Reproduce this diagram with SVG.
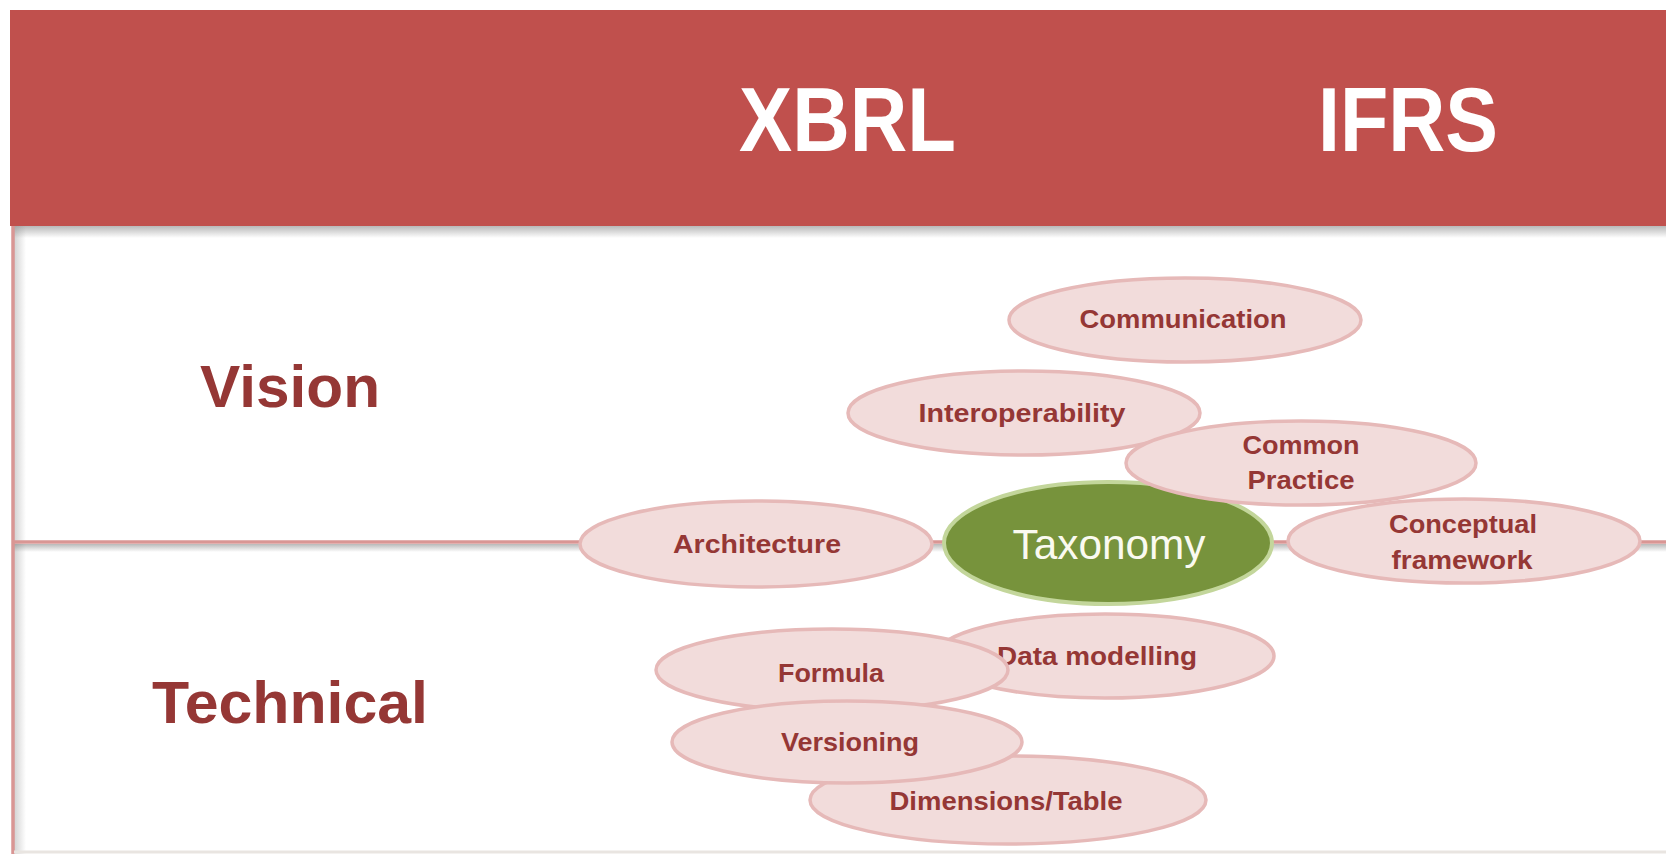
<svg xmlns="http://www.w3.org/2000/svg" width="1666" height="854" viewBox="0 0 1666 854">
  <defs>
    <linearGradient id="shadowDown" x1="0" y1="0" x2="0" y2="1">
      <stop offset="0" stop-color="#7f7f7f" stop-opacity="0.55"/>
      <stop offset="1" stop-color="#7f7f7f" stop-opacity="0"/>
    </linearGradient>
    <linearGradient id="shadowRight" x1="0" y1="0" x2="1" y2="0">
      <stop offset="0" stop-color="#7f7f7f" stop-opacity="0.35"/>
      <stop offset="1" stop-color="#7f7f7f" stop-opacity="0"/>
    </linearGradient>
  </defs>
  <style>
    .hdr { font-family: "Liberation Sans", Arial, sans-serif; font-weight: bold; fill: #FFFFFF; font-size: 90px; }
    .row { font-family: "Liberation Sans", Arial, sans-serif; font-weight: bold; fill: #953735; font-size: 60px; text-anchor: middle; }
    .pink { fill: #F2DCDB; stroke: #E6B9B8; stroke-width: 3.5; }
    .lbl { font-family: "Liberation Sans", Arial, sans-serif; font-weight: bold; fill: #953735; font-size: 25px; text-anchor: middle; }
    .tax { fill: #77933C; stroke: #C3D69B; stroke-width: 4; }
    .taxlbl { font-family: "Liberation Sans", Arial, sans-serif; fill: #FAFAF0; font-size: 43px; text-anchor: middle; }
    .conn { stroke: #D99694; stroke-width: 3.5; fill: none; }
  </style>

  <rect x="0" y="0" width="1666" height="854" fill="#FFFFFF"/>

  <!-- header band -->
  <g id="header">
    <rect x="14" y="226" width="1652" height="12" fill="url(#shadowDown)"/>
    <rect x="10" y="10" width="1656" height="216" fill="#C0504D"/>
    <text class="hdr" x="739" y="151" textLength="217" lengthAdjust="spacingAndGlyphs">XBRL</text>
    <text class="hdr" x="1318" y="151" textLength="180" lengthAdjust="spacingAndGlyphs">IFRS</text>
  </g>

  <!-- frame lines -->
  <g id="connectors">
    <rect x="14" y="226" width="12" height="628" fill="url(#shadowRight)"/>
    <rect x="14" y="544" width="1652" height="8" fill="url(#shadowDown)"/>
    <line class="conn" x1="13" y1="226" x2="13" y2="854"/>
    <line class="conn" x1="12" y1="542" x2="1666" y2="542"/>
    <line x1="14" y1="852" x2="1666" y2="852" stroke="#E9E5E1" stroke-width="3"/>
  </g>

  <g id="row-labels">
    <text class="row" x="290" y="407" textLength="180" lengthAdjust="spacingAndGlyphs">Vision</text>
    <text class="row" x="290" y="723" textLength="276" lengthAdjust="spacingAndGlyphs">Technical</text>
  </g>

  <g id="node-communication">
    <ellipse class="pink" cx="1185" cy="320" rx="176" ry="42"/>
    <text class="lbl" x="1183" y="328" textLength="207" lengthAdjust="spacingAndGlyphs">Communication</text>
  </g>
  <g id="node-interoperability">
    <ellipse class="pink" cx="1024" cy="413" rx="176" ry="42"/>
    <text class="lbl" x="1022" y="422" textLength="207" lengthAdjust="spacingAndGlyphs">Interoperability</text>
  </g>
  <g id="node-taxonomy">
    <ellipse class="tax" cx="1108" cy="543" rx="164" ry="61"/>
    <text class="taxlbl" x="1109" y="559" textLength="193" lengthAdjust="spacingAndGlyphs">Taxonomy</text>
  </g>
  <g id="node-common-practice">
    <ellipse class="pink" cx="1301" cy="463" rx="175" ry="42"/>
    <text class="lbl" x="1301" y="454" textLength="117" lengthAdjust="spacingAndGlyphs">Common</text>
    <text class="lbl" x="1301" y="489" textLength="107" lengthAdjust="spacingAndGlyphs">Practice</text>
  </g>
  <g id="node-conceptual-framework">
    <ellipse class="pink" cx="1464" cy="541" rx="176" ry="42"/>
    <text class="lbl" x="1463" y="533" textLength="148" lengthAdjust="spacingAndGlyphs">Conceptual</text>
    <text class="lbl" x="1462" y="569" textLength="141" lengthAdjust="spacingAndGlyphs">framework</text>
  </g>
  <g id="node-architecture">
    <ellipse class="pink" cx="756" cy="544" rx="176" ry="43"/>
    <text class="lbl" x="757" y="553" textLength="168" lengthAdjust="spacingAndGlyphs">Architecture</text>
  </g>
  <g id="node-data-modelling">
    <ellipse class="pink" cx="1105" cy="656" rx="169" ry="42"/>
    <text class="lbl" x="1097" y="665" textLength="200" lengthAdjust="spacingAndGlyphs">Data modelling</text>
  </g>
  <g id="node-formula">
    <ellipse class="pink" cx="832" cy="670" rx="176" ry="41"/>
    <text class="lbl" x="831" y="682" textLength="106" lengthAdjust="spacingAndGlyphs">Formula</text>
  </g>
  <g id="node-dimensions-table">
    <ellipse class="pink" cx="1008" cy="800" rx="198" ry="44"/>
    <text class="lbl" x="1006" y="810" textLength="233" lengthAdjust="spacingAndGlyphs">Dimensions/Table</text>
  </g>
  <g id="node-versioning">
    <ellipse class="pink" cx="847" cy="742" rx="175" ry="41"/>
    <text class="lbl" x="850" y="751" textLength="138" lengthAdjust="spacingAndGlyphs">Versioning</text>
  </g>
</svg>
